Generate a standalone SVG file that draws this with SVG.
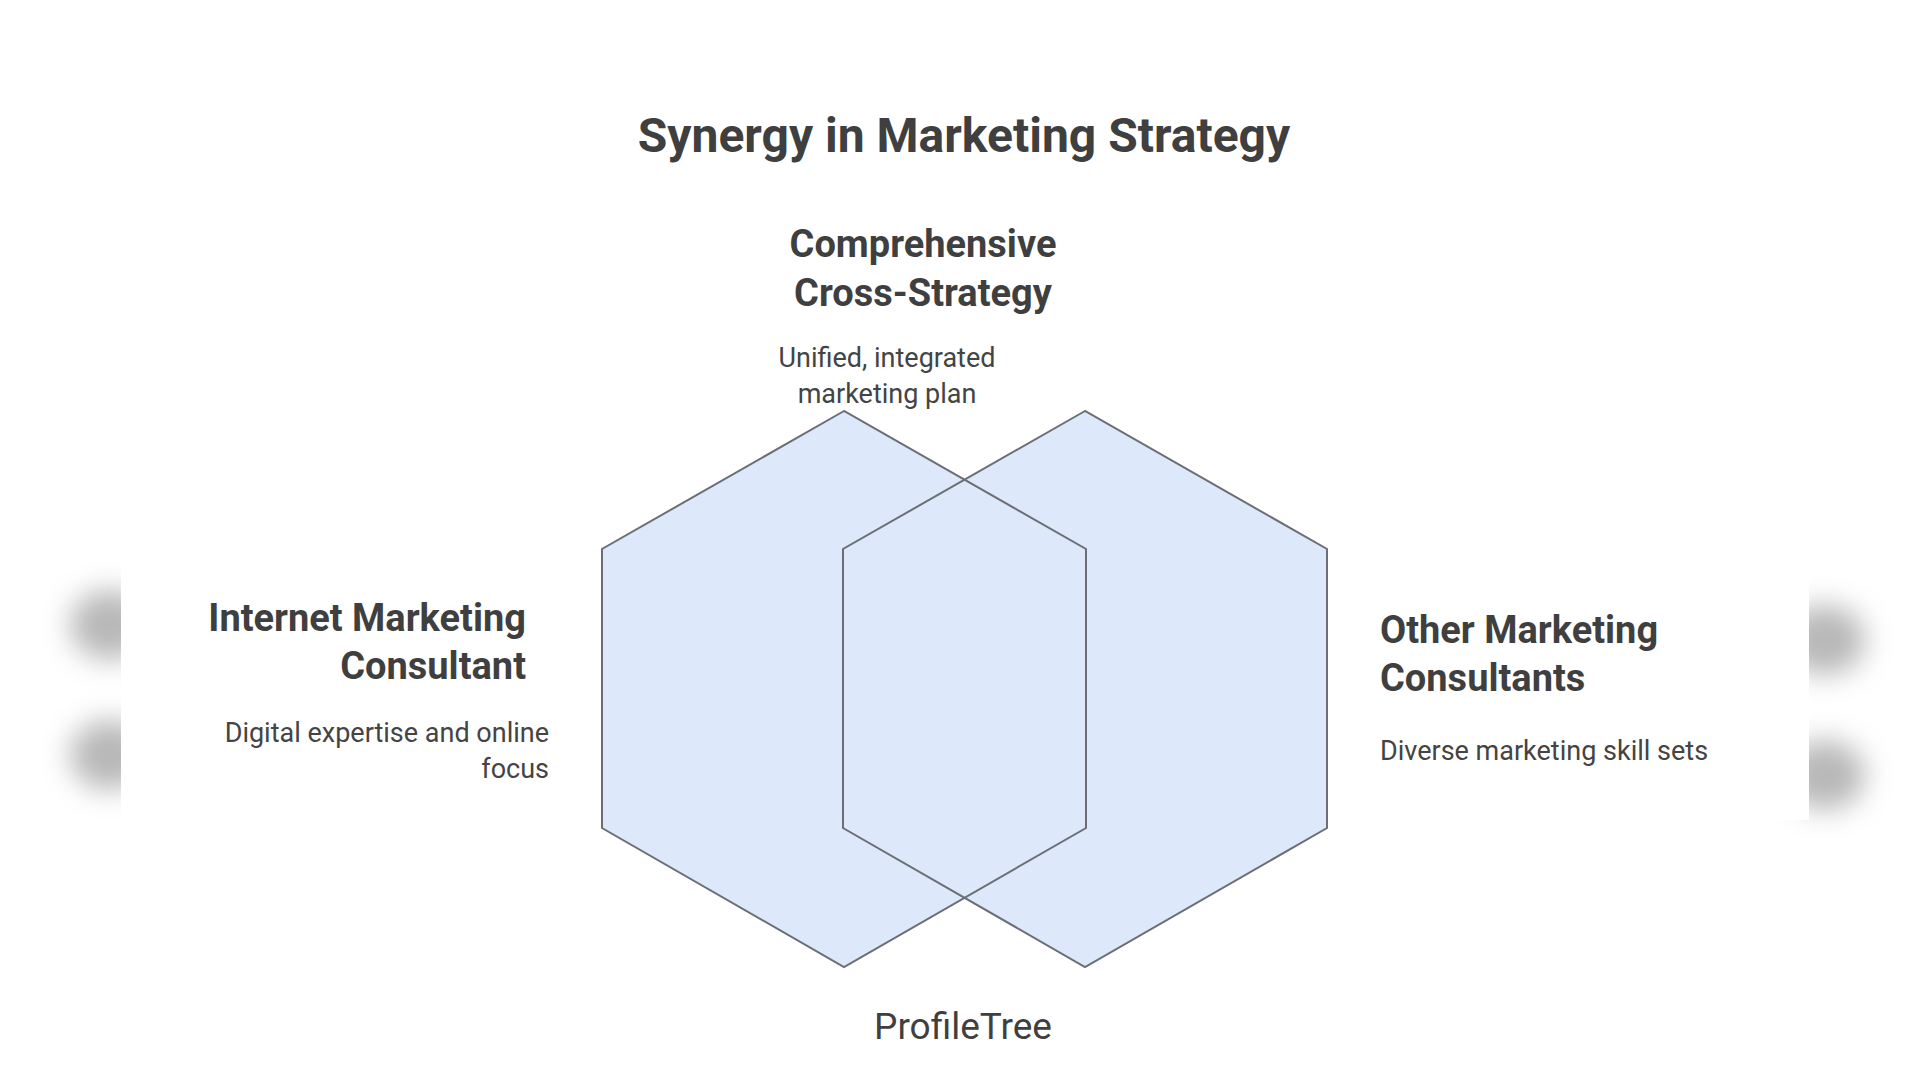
<svg xmlns="http://www.w3.org/2000/svg" width="1920" height="1080" viewBox="0 0 1920 1080">
<defs>
<style>
.hex{fill:#dde8fb;stroke:none}
.outline{fill:none;stroke:#6b6f75;stroke-width:2}
.t{font-family:Roboto,"Liberation Sans",Arial,sans-serif;fill:#3f3f3f;dominant-baseline:central}
.h{font-weight:bold;font-size:38px}
.d{font-size:27px;fill:#444}
</style>
<filter id="blur" x="-1" y="-1" width="3" height="3"><feGaussianBlur stdDeviation="14"/></filter>
</defs>
<rect width="1920" height="1080" fill="#fff"/>
<g id="edge-shadows" filter="url(#blur)" fill="#9a9a9a" opacity="0.7">
<ellipse cx="110" cy="625" rx="40" ry="35"/>
<ellipse cx="110" cy="755" rx="40" ry="35"/>
<ellipse cx="1825" cy="640" rx="40" ry="35"/>
<ellipse cx="1825" cy="775" rx="40" ry="35"/>
</g>
<rect x="121" y="560" width="1688" height="260" fill="#fff"/>
<text class="t" x="964" y="135" text-anchor="middle" font-size="48" font-weight="bold">Synergy in Marketing Strategy</text>
<g id="node-left">
<polygon class="hex" points="844,411 602,549 602,828 844,967 1086,828 1086,549"/>
</g>
<g id="node-right">
<polygon class="hex" points="1085,411 843,549 843,828 1085,967 1327,828 1327,549"/>
</g>
<g id="outlines">
<polygon class="outline" points="844,411 602,549 602,828 844,967 1086,828 1086,549"/>
<polygon class="outline" points="1085,411 843,549 843,828 1085,967 1327,828 1327,549"/>
</g>
<g id="label-top">
<text class="t h" x="923" y="244" text-anchor="middle">Comprehensive</text>
<text class="t h" x="923" y="293" text-anchor="middle">Cross-Strategy</text>
<text class="t d" x="887" y="358" text-anchor="middle">Unified, integrated</text>
<text class="t d" x="887" y="394" text-anchor="middle">marketing plan</text>
</g>
<g id="label-left">
<text class="t h" x="526" y="618" text-anchor="end">Internet Marketing</text>
<text class="t h" x="526" y="666" text-anchor="end">Consultant</text>
<text class="t d" x="549" y="733" text-anchor="end">Digital expertise and online</text>
<text class="t d" x="549" y="769" text-anchor="end">focus</text>
</g>
<g id="label-right">
<text class="t h" x="1380" y="630">Other Marketing</text>
<text class="t h" x="1380" y="678">Consultants</text>
<text class="t d" x="1380" y="751">Diverse marketing skill sets</text>
</g>
<text class="t" x="963" y="1026" text-anchor="middle" font-size="37" fill="#444">ProfileTree</text>
</svg>
